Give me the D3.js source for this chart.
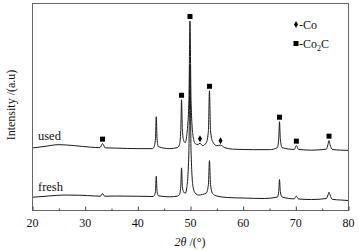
<!DOCTYPE html>
<html>
<head>
<meta charset="utf-8">
<script src="https://cdn.jsdelivr.net/npm/d3@7"></script>
<style>
html,body{margin:0;padding:0;background:#fff;}
svg{display:block;font-family:"Liberation Serif","Times New Roman",serif;}
</style>
</head>
<body>
<svg id="chart" width="359" height="251"></svg>
<script>
// ---- data (2θ in degrees, intensity in arbitrary units) ----
const xTicks = [20, 30, 40, 50, 60, 70, 80];
const usedTheta = [20,22,25,28,31,32.8,33.3,33.8,36,40,42.8,43.1,43.35,43.5,43.65,43.9,46,47.5,47.9,48.15,48.3,48.45,48.7,49.0,49.3,49.7,49.9,50.1,50.5,50.9,51.4,51.8,52.3,53.0,53.4,53.6,53.8,54.2,55.0,55.7,56.5,58,62,65,66.5,66.75,66.9,67.05,67.4,69.7,70.1,70.5,73,75.8,76.1,76.3,76.5,76.9,78.5,80];
const usedInt   = [627,640,660,650,635,630,670,628,625,620,620,640,720,940,720,640,620,630,660,800,1110,820,700,680,760,1100,1900,1100,740,670,660,675,650,680,800,1200,800,690,650,655,630,615,610,610,630,720,890,720,630,612,650,612,605,615,660,700,660,612,605,603];
const freshTheta = [20,23,26,29,32,32.9,33.3,33.7,36,40,42.9,43.1,43.35,43.5,43.65,43.9,46,47.6,47.9,48.15,48.3,48.45,48.7,49.0,49.3,49.7,49.9,50.1,50.5,50.9,51.5,53.0,53.4,53.6,53.8,54.2,55,57,60,64,66.5,66.75,66.9,67.05,67.4,69.7,70.1,70.5,73,75.8,76.1,76.3,76.5,76.9,78.5,80];
const freshInt   = [133,145,155,153,145,143,170,143,145,143,140,148,190,343,190,148,137,145,160,240,427,240,185,172,230,600,1460,600,230,175,155,175,260,500,260,170,145,130,125,120,135,190,310,190,135,117,145,115,110,120,155,183,155,112,105,100];
const co2cTheta = [33.3, 48.3, 49.9, 53.6, 66.9, 70.1, 76.3];
const coTheta = [51.8, 55.7];
const curveLabels = ["used", "fresh"];
const legendLabels = ["-Co", "-Co2C"];

// ---- layout ----
const svg = d3.select("#chart");
const L = 32.5, R = 348.5, T = 3.5, B = 210.5;
const x = d3.scaleLinear().domain([20, 80]).range([L, R]);
const y = d3.scaleLinear().domain([0, 2075]).range([B, T]);

const lineColor = "#1a1a1a";
const line = d3.line().x(d => x(d[0])).y(d => y(d[1])).curve(d3.curveMonotoneX);
const usedData = usedTheta.map((t, i) => [t, usedInt[i]]);
const freshData = freshTheta.map((t, i) => [t, freshInt[i]]);

svg.append("path").datum(freshData).attr("d", line)
  .attr("fill", "none").attr("stroke", lineColor).attr("stroke-width", 1);
svg.append("path").datum(usedData).attr("d", line)
  .attr("fill", "none").attr("stroke", lineColor).attr("stroke-width", 1);

// frame
svg.append("rect").attr("x", L).attr("y", T).attr("width", R - L).attr("height", B - T)
  .attr("fill", "none").attr("stroke", "#666").attr("stroke-width", 1);

// x axis ticks (inward)
const xAxis = d3.axisTop(x).tickValues(xTicks).tickSize(4).tickFormat("");
const gx = svg.append("g").attr("transform", `translate(0,${B})`).call(xAxis);
gx.select(".domain").remove();
gx.selectAll("line").attr("stroke", "#444");
const minor = d3.axisTop(x).tickValues(d3.range(25, 80, 10)).tickSize(2).tickFormat("");
const gm = svg.append("g").attr("transform", `translate(0,${B})`).call(minor);
gm.select(".domain").remove();
gm.selectAll("line").attr("stroke", "#444");

// x tick labels
svg.append("g").selectAll("text").data(xTicks).join("text")
  .attr("x", d => x(d)).attr("y", 227)
  .attr("text-anchor", "middle").attr("font-size", 12).attr("fill", "#111")
  .text(d => d);

// axis titles
const xt = svg.append("text").attr("x", 190).attr("y", 246)
  .attr("text-anchor", "middle").attr("font-size", 12).attr("fill", "#111");
xt.append("tspan").attr("font-style", "italic").text("2θ");
xt.append("tspan").text(" /(°)");
svg.append("text").attr("transform", "translate(15,105) rotate(-90)")
  .attr("text-anchor", "middle").attr("font-size", 12).attr("fill", "#111")
  .text("Intensity /(a.u)");

// curve labels
svg.append("text").attr("x", 38).attr("y", 140).attr("font-size", 12.5).attr("fill", "#111").text(curveLabels[0]);
svg.append("text").attr("x", 38).attr("y", 190.5).attr("font-size", 12.5).attr("fill", "#111").text(curveLabels[1]);

// peak markers on used pattern
const usedAt = (t) => usedInt[usedTheta.indexOf(t)];
svg.append("g").selectAll("rect").data(co2cTheta).join("rect")
  .attr("x", d => x(d) - 2.5).attr("y", d => y(usedAt(d)) - 7)
  .attr("width", 5).attr("height", 5).attr("fill", "#000");
const diamond = d3.symbol().type(d3.symbolDiamond).size(14);
svg.append("g").selectAll("path").data(coTheta).join("path")
  .attr("d", diamond)
  .attr("transform", d => `translate(${x(d)},${y(usedAt(d)) - 4.5})`)
  .attr("fill", "#000");

// legend
svg.append("path").attr("d", diamond).attr("transform", "translate(296,24.5)").attr("fill", "#000");
svg.append("text").attr("x", 299).attr("y", 28.5).attr("font-size", 12).attr("fill", "#111").text(legendLabels[0]);
svg.append("rect").attr("x", 293.5).attr("y", 41).attr("width", 5).attr("height", 5).attr("fill", "#000");
const lt = svg.append("text").attr("x", 299).attr("y", 47.5).attr("font-size", 12).attr("fill", "#111");
lt.append("tspan").text("-Co");
lt.append("tspan").attr("font-size", 8).attr("dy", 3).text("2");
lt.append("tspan").attr("dy", -3).text("C");
</script>
</body>
</html>
